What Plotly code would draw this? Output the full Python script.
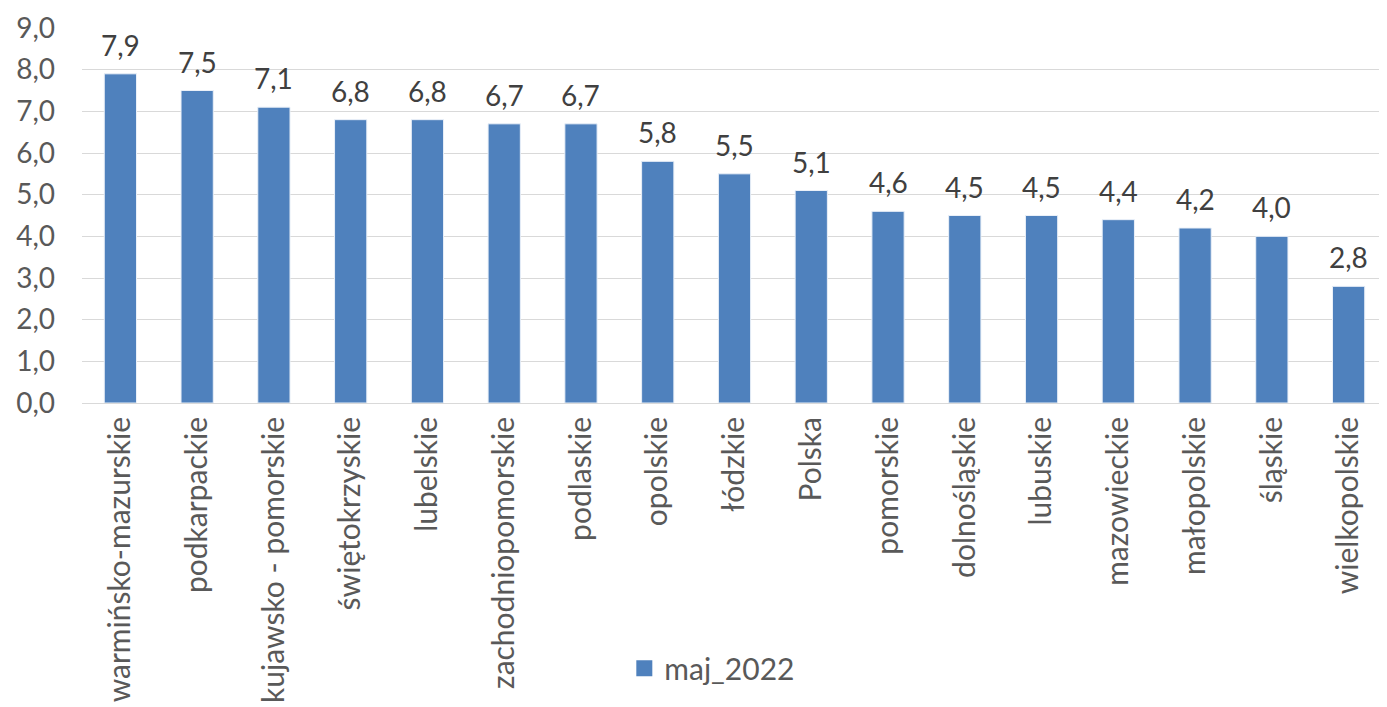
import plotly.graph_objects as go

categories = ["warmińsko-mazurskie", "podkarpackie", "kujawsko - pomorskie", "świętokrzyskie",
              "lubelskie", "zachodniopomorskie", "podlaskie", "opolskie", "łódzkie", "Polska",
              "pomorskie", "dolnośląskie", "lubuskie", "mazowieckie", "małopolskie", "śląskie",
              "wielkopolskie"]
values = [7.9, 7.5, 7.1, 6.8, 6.8, 6.7, 6.7, 5.8, 5.5, 5.1, 4.6, 4.5, 4.5, 4.4, 4.2, 4.0, 2.8]
series_name = "maj_2022"
tick_vals = [0, 1, 2, 3, 4, 5, 6, 7, 8, 9]
tick_text = [f"{v:.1f}".replace(".", ",") for v in tick_vals]
labels = [f"{v:.1f}".replace(".", ",") for v in values]

FONT = "Lato, Open Sans, sans-serif"
BAR = "#4F81BD"

fig = go.Figure()
fig.add_trace(go.Bar(
    x=categories, y=values, name=series_name,
    marker=dict(color=BAR, line=dict(color="#EAF0F8", width=1)),
    showlegend=False,
))
# legend-only entry with a larger square swatch
fig.add_trace(go.Scatter(
    x=[None], y=[None], mode="markers", name=series_name,
    marker=dict(symbol="square", size=18, color=BAR),
    showlegend=True,
))
for c, v, t in zip(categories, values, labels):
    fig.add_annotation(x=c, y=v, text=t, showarrow=False, yanchor="bottom", yshift=10,
                       font=dict(family=FONT, size=28, color="#404040"))

fig.update_layout(
    width=1387, height=707,
    margin=dict(l=74, r=8, t=20, b=312),
    plot_bgcolor="white", paper_bgcolor="white",
    bargap=0.58,
    font=dict(family=FONT, size=28, color="#595959"),
    xaxis=dict(tickangle=-90, tickfont=dict(family=FONT, size=30, color="#595959"),
               showline=False, ticks="", automargin=False, ticklabelstandoff=7),
    yaxis=dict(range=[0, 9], tickvals=tick_vals, ticktext=tick_text,
               showgrid=True, gridcolor="#D9D9D9", gridwidth=1.3,
               zeroline=True, zerolinecolor="#D9D9D9", zerolinewidth=1.3,
               tickfont=dict(family=FONT, size=28, color="#595959"), ticks="",
               automargin=False, ticklabelstandoff=26),
    legend=dict(orientation="h", x=0.483, xanchor="center", y=-0.707, yanchor="middle",
                font=dict(family=FONT, size=30, color="#595959"), itemwidth=30),
    showlegend=True,
)
fig.write_html("out.html")
